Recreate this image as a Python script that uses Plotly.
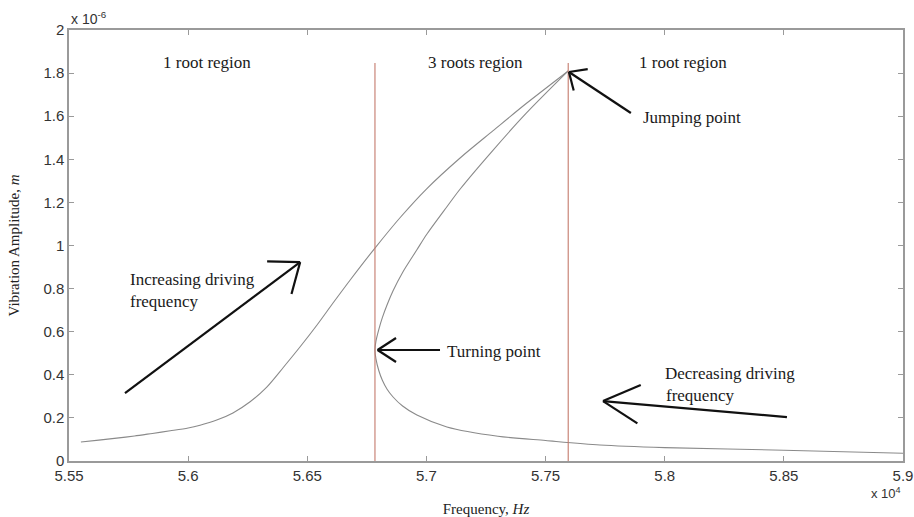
import math
import plotly.graph_objects as go

# Frequency response of the resonator (x in units of 1e4 Hz, y in units of 1e-6 m)
# Stable upper branch, rising up to the jumping point
upper_freq = [5.555, 5.5625, 5.57, 5.5775, 5.585, 5.5925, 5.6, 5.605, 5.612, 5.6188,
              5.626, 5.633, 5.64, 5.647, 5.654, 5.6608, 5.668, 5.6784, 5.689,
              5.7, 5.714, 5.728, 5.742, 5.7595]
upper_amp = [0.088, 0.097, 0.106, 0.116, 0.128, 0.14, 0.153, 0.166, 0.19, 0.223,
             0.275, 0.343, 0.435, 0.53, 0.63, 0.733, 0.84, 0.988, 1.13,
             1.262, 1.405, 1.533, 1.66, 1.81]
# Unstable branch back down to the turning point, then the lower stable branch
lower_freq = [5.7595, 5.742, 5.728, 5.714, 5.7086, 5.7, 5.696, 5.69, 5.686, 5.6835,
              5.6815, 5.680, 5.6788, 5.6784, 5.6788, 5.680, 5.6815, 5.6835, 5.686, 5.69,
              5.696, 5.7086, 5.73, 5.75, 5.7728, 5.8, 5.85, 5.9]
lower_amp = [1.81, 1.615, 1.443, 1.26, 1.18, 1.05, 0.98, 0.875, 0.79, 0.725,
             0.665, 0.61, 0.555, 0.515, 0.475, 0.42, 0.375, 0.333, 0.297, 0.255,
             0.213, 0.158, 0.115, 0.095, 0.074, 0.062, 0.05, 0.036]

# Boundaries of the three-root (bistable) region
boundary_freq = [5.6784, 5.7595]
boundary_top = 1.847

x_ticks = [5.55, 5.6, 5.65, 5.7, 5.75, 5.8, 5.85, 5.9]
x_tick_text = ["5.55", "5.6", "5.65", "5.7", "5.75", "5.8", "5.85", "5.9"]
y_ticks = [0, 0.2, 0.4, 0.6, 0.8, 1.0, 1.2, 1.4, 1.6, 1.8, 2.0]
y_tick_text = ["0", "0.2", "0.4", "0.6", "0.8", "1", "1.2", "1.4", "1.6", "1.8", "2"]

# Arrows: (tail, head, barb length px, barb half-angle deg)
arrows = [
    ((5.5735, 0.315), (5.647, 0.923), 33, 38),
    ((5.7057, 0.515), (5.6795, 0.515), 22, 33),
    ((5.7858, 1.615), (5.7598, 1.805), 19, 42),
    ((5.8513, 0.204), (5.7741, 0.278), 41, 28),
]

labels = [
    (5.6081, 1.851, "1 root region", "center"),
    (5.7206, 1.847, "3 roots region", "center"),
    (5.8077, 1.851, "1 root region", "center"),
    (5.790, 1.595, "Jumping point", "left"),
    (5.5748, 0.841, "Increasing driving", "left"),
    (5.5748, 0.742, "frequency", "left"),
    (5.7078, 0.506, "Turning point", "left"),
    (5.7993, 0.408, "Decreasing driving", "left"),
    (5.7995, 0.306, "frequency", "left"),
]

W, H = 914, 517
ML, MR, MT, MB = 69, 11, 30, 56
X0, X1 = 5.55, 5.9
Y0, Y1 = 0.0, 2.0
ppx = (W - ML - MR) / (X1 - X0)
ppy = (H - MT - MB) / (Y1 - Y0)

fig = go.Figure()

for fx, fy in ((upper_freq, upper_amp), (lower_freq, lower_amp)):
    fig.add_trace(go.Scatter(x=fx, y=fy, mode="lines",
                             line=dict(color="#8a8a8a", width=1.1, shape="spline", smoothing=0.8),
                             hoverinfo="skip", showlegend=False))

for f in boundary_freq:
    fig.add_trace(go.Scatter(x=[f, f], y=[0, boundary_top], mode="lines",
                             line=dict(color="#c47a6c", width=1.1), hoverinfo="skip",
                             showlegend=False))

# Arrows with open V-shaped heads, built in screen space
for (tx, ty), (hx, hy), blen, bang in arrows:
    dx = (tx - hx) * ppx
    dy = (ty - hy) * ppy
    ang = math.atan2(dy, dx)
    xs = [tx, hx, None]
    ys = [ty, hy, None]
    for s in (1, -1):
        a = ang + s * math.radians(bang)
        bx = hx + blen * math.cos(a) / ppx
        by = hy + blen * math.sin(a) / ppy
        xs += [hx, bx, None]
        ys += [hy, by, None]
    fig.add_trace(go.Scatter(x=xs, y=ys, mode="lines",
                             line=dict(color="#111111", width=2.2), hoverinfo="skip",
                             showlegend=False))

for x, y, t, anchor in labels:
    fig.add_annotation(x=x, y=y, text=t, showarrow=False, xanchor=anchor, yanchor="middle",
                       font=dict(family="Liberation Serif", size=17, color="#1a1a1a"))

# Exponent markers
fig.add_annotation(xref="paper", yref="paper", x=0.0, y=1.0, yshift=1,
                   text="x 10<sup>-6</sup>", showarrow=False, xanchor="left", yanchor="bottom",
                   font=dict(family="Liberation Sans", size=14, color="#333333"))
fig.add_annotation(xref="paper", yref="paper", x=1.0, y=0.0, yshift=-22,
                   text="x 10<sup>4</sup>", showarrow=False, xanchor="right", yanchor="top",
                   font=dict(family="Liberation Sans", size=13, color="#333333"))

axis_common = dict(showline=True, linecolor="#9a9a9a", linewidth=1.5, mirror="ticks",
                   ticks="inside", ticklen=5, tickcolor="#9a9a9a", showgrid=False,
                   zeroline=False, automargin=False,
                   tickfont=dict(family="Liberation Sans", size=15, color="#333333"))

fig.update_xaxes(range=[X0, X1], tickvals=x_ticks, ticktext=x_tick_text,
                 title=dict(text="Frequency, <i>Hz</i>", standoff=24,
                            font=dict(family="Liberation Serif", size=15, color="#222222")),
                 **axis_common)
fig.update_yaxes(range=[Y0, Y1], tickvals=y_ticks, ticktext=y_tick_text,
                 title=dict(text="Vibration Amplitude, <i>m</i>", standoff=20,
                            font=dict(family="Liberation Serif", size=15, color="#222222")),
                 **axis_common)

fig.update_layout(width=W, height=H, margin=dict(l=ML, r=MR, t=MT, b=MB),
                  plot_bgcolor="white", paper_bgcolor="white")

fig.write_html("out.html")
